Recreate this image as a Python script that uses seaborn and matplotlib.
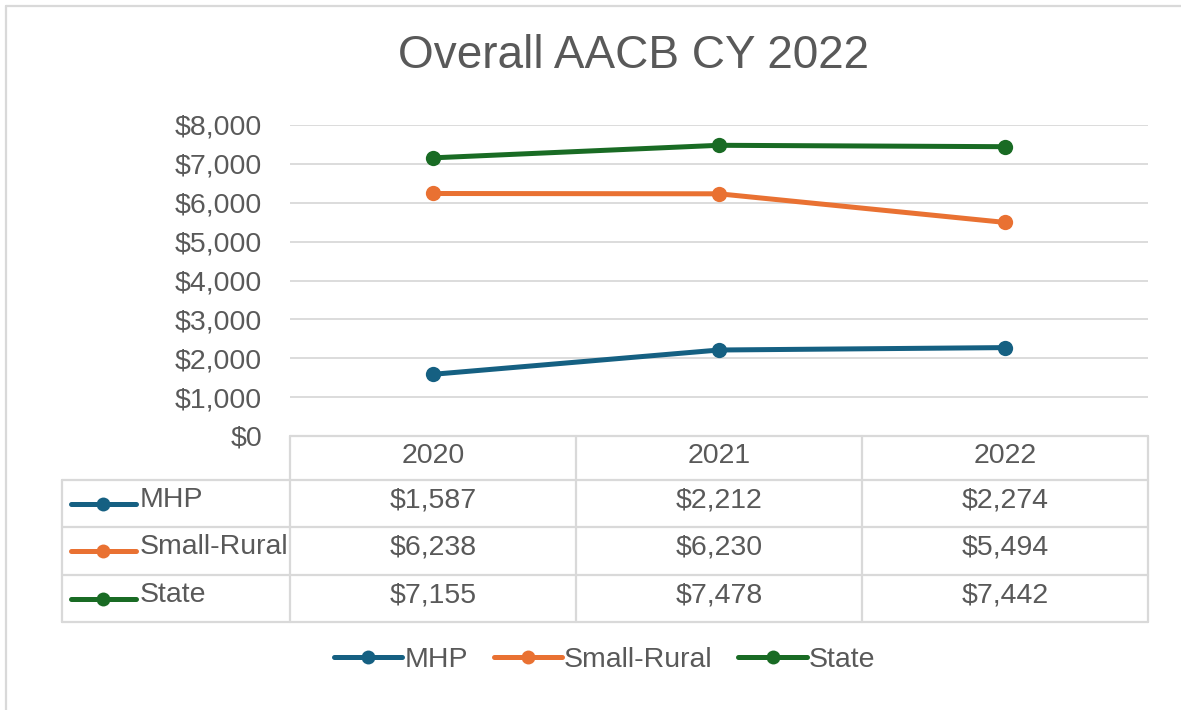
import matplotlib
matplotlib.use("Agg")
import matplotlib.pyplot as plt
import numpy as np
import pandas as pd
import seaborn as sns

# chart data
years = ["2020", "2021", "2022"]
series = ["MHP", "Small-Rural", "State"]
mhp = [1587, 2212, 2274]
small_rural = [6238, 6230, 5494]
state = [7155, 7478, 7442]
y_ticks = [0, 1000, 2000, 3000, 4000, 5000, 6000, 7000, 8000]

colors = {"MHP": "#156082", "Small-Rural": "#E97132", "State": "#196B24"}
TXT = "#595959"
GRID = "#d9d9d9"
W, H = 1181, 710
FS = 20.5

df = pd.DataFrame({
    "year": years * 3,
    "series": [s for s in series for _ in years],
    "value": mhp + small_rural + state,
})

sns.set_style("white")
plt.rcParams["font.family"] = ["Liberation Sans", "DejaVu Sans"]

fig = plt.figure(figsize=(W / 100, H / 100), dpi=100)

# outer frame (top and left edges only visible)
fig.add_artist(plt.Line2D([5.5 / W, 1], [1 - 5.5 / H] * 2, color=GRID, lw=1.6))
fig.add_artist(plt.Line2D([5.5 / W] * 2, [0, 1 - 5.5 / H], color=GRID, lw=1.6))

ax = fig.add_axes([290 / W, 1 - 436 / H, (1148 - 290) / W, (436 - 125) / H])
sns.lineplot(data=df, x="year", y="value", hue="series", palette=colors,
             marker="o", markersize=11, markeredgewidth=0, linewidth=3.6,
             sort=False, ax=ax)
ax.set_xlim(-0.5, 2.5)
ax.set_ylim(0, 8000)
ax.set_yticks(y_ticks)
ax.set_yticklabels([f"${v:,.0f}" for v in y_ticks], fontsize=FS, color=TXT)
ax.set_xticks([])
ax.set_xlabel("")
ax.set_ylabel("")
ax.tick_params(axis="y", length=0, pad=20)
ax.grid(axis="y", color=GRID, lw=1.3)
ax.set_axisbelow(True)
for sp in ax.spines.values():
    sp.set_visible(False)

handles, labels = ax.get_legend_handles_labels()
for h in handles:
    h.set_markersize(10)
ax.get_legend().remove()
fig.legend(handles, labels, loc="center", bbox_to_anchor=(0.512, 1 - 660 / H),
           ncol=3, frameon=False, fontsize=FS, labelcolor=TXT,
           handlelength=2.4, handletextpad=0.08, columnspacing=0.9)

fig.text(0.536, 1 - 56 / H, "Overall AACB CY 2022", ha="center", va="center",
         fontsize=33, color=TXT)

# data table under the plot
tax = fig.add_axes([62 / W, 1 - 622 / H, (1148 - 62) / W, (622 - 436) / H])
x0 = -0.5 - (290 - 62) / 286.0
tax.set_xlim(x0, 2.5)
tax.set_ylim(186, 0)
tax.axis("off")
rows_y = [0, 44, 91, 139, 186]
lk = dict(color=GRID, lw=1.6, clip_on=False)
tax.plot([-0.5, 2.5], [0, 0], **lk)
for yy in rows_y[1:]:
    tax.plot([x0, 2.5], [yy, yy], **lk)
tax.plot([x0, x0], [44, 186], **lk)
for xx in [-0.5, 0.5, 1.5, 2.5]:
    tax.plot([xx, xx], [0, 186], **lk)

for i, yr in enumerate(years):
    tax.text(i, 20, yr, ha="center", va="center", fontsize=FS, color=TXT)
for r, (name, vals) in enumerate(zip(series, [mhp, small_rural, state])):
    yc = (rows_y[r + 1] + rows_y[r + 2]) / 2
    gx = [x0 + 9 / 286, x0 + 41 / 286, x0 + 74 / 286]
    tax.plot(gx, [yc] * 3, color=colors[name], lw=3.6, marker="o",
             markersize=10, markeredgewidth=0, markevery=[1],
             solid_capstyle="round", clip_on=False)
    tax.text(x0 + 78 / 286, yc - 4, name, ha="left", va="center",
             fontsize=FS, color=TXT)
    for i, v in enumerate(vals):
        tax.text(i, yc - 3, f"${v:,.0f}", ha="center", va="center",
                 fontsize=FS, color=TXT)

fig.savefig("out.png", dpi=100, facecolor="white")
